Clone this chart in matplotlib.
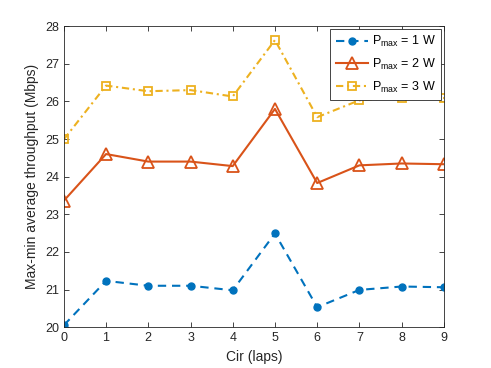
import matplotlib
matplotlib.use("Agg")
import matplotlib.pyplot as plt

plt.rcParams["font.family"] = ["Liberation Sans", "DejaVu Sans"]
plt.rcParams["mathtext.fontset"] = "custom"
plt.rcParams["mathtext.rm"] = "Liberation Sans"

cir = [0, 1, 2, 3, 4, 5, 6, 7, 8, 9]
p1w = [20.05, 21.23, 21.10, 21.10, 20.98, 22.49, 20.53, 20.99, 21.08, 21.06]
p2w = [23.36, 24.60, 24.40, 24.40, 24.28, 25.80, 23.83, 24.30, 24.35, 24.33]
p3w = [24.99, 26.42, 26.27, 26.30, 26.13, 27.63, 25.58, 26.03, 26.10, 26.09]
labels = [r"P$_{\mathregular{max}}$ = 1 W",
          r"P$_{\mathregular{max}}$ = 2 W",
          r"P$_{\mathregular{max}}$ = 3 W"]

BLUE = "#0072BD"
ORANGE = "#D95319"
YELLOW = "#EDB120"
AX_COLOR = "#262626"

fig = plt.figure(figsize=(4.91, 3.68), dpi=100)
ax = fig.add_axes([0.130, 0.111, 0.774, 0.818])

ax.plot(cir, p1w, color=BLUE, linestyle="--", dashes=(4.0, 2.8), linewidth=1.5,
        marker="o", markersize=5, markerfacecolor=BLUE, label=labels[0])
ax.plot(cir, p2w, color=ORANGE, linestyle="-", linewidth=1.5, marker="^",
        markersize=8, markerfacecolor="none", markeredgewidth=1.3, label=labels[1])
ax.plot(cir, p3w, color=YELLOW, linestyle="-.", dashes=(3.5, 1.8, 1, 1.8), linewidth=1.5,
        marker="s", markersize=5.5, markerfacecolor="none", markeredgewidth=1.3,
        label=labels[2])

ax.set_xlim(0, 9)
ax.set_ylim(20, 28)
ax.set_xticks(cir)
ax.set_yticks(range(20, 29))
ax.tick_params(direction="in", top=True, right=True, labelsize=9,
               colors=AX_COLOR, length=3.5, width=0.6)
for spine in ax.spines.values():
    spine.set_edgecolor(AX_COLOR)
    spine.set_linewidth(0.6)

ax.set_xlabel("Cir (laps)", fontsize=10, color=AX_COLOR)
ax.set_ylabel("Max-min average throughput (Mbps)", fontsize=10, color=AX_COLOR)

leg = ax.legend(loc="upper right", fontsize=9, fancybox=False, framealpha=1,
                edgecolor=AX_COLOR, handlelength=2.6, handletextpad=0.3,
                borderaxespad=0.2, labelspacing=0.6, borderpad=0.45)
leg.get_frame().set_linewidth(0.6)

fig.savefig("out.png", dpi=100, facecolor="white")
plt.close(fig)
